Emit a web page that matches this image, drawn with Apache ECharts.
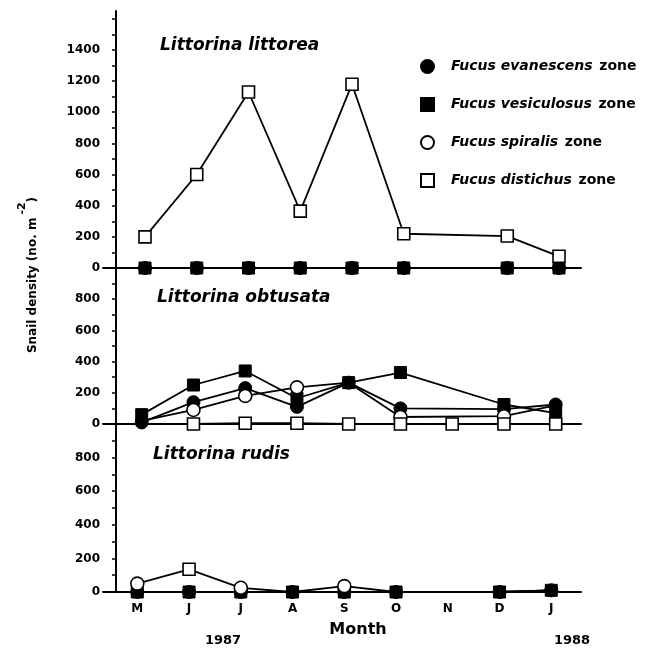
<!DOCTYPE html>
<html>
<head>
<meta charset="utf-8">
<script src="https://cdn.jsdelivr.net/npm/echarts@6/dist/echarts.min.js"></script>
<style>html,body{margin:0;padding:0;background:#fff}#c{width:649px;height:648px}</style>
</head>
<body>
<div id="c"></div>
<script>
// ---- data ----
const months = ['M','J','J','A','S','O','N','D','J'];
const zoneNames = ['Fucus evanescens zone','Fucus vesiculosus zone','Fucus spiralis zone','Fucus distichus zone'];
const panelTitles = ['Littorina littorea','Littorina obtusata','Littorina rudis'];
const yearLabels = ['1987','1988'];
const yLabelsTop = [0,200,400,600,800,1000,1200,1400];
const yLabelsLow = [0,200,400,600,800];

// Littorina littorea (null = not sampled)
const littoreaEvanescens  = [0,0,0,0,0,0,null,0,0];
const littoreaVesiculosus = [0,0,0,0,0,0,null,0,0];
const littoreaDistichus   = [200,600,1130,365,1180,220,null,205,75];

// Littorina obtusata
const obtusataEvanescens  = [10,140,230,110,265,100,null,95,125];
const obtusataVesiculosus = [60,250,340,165,265,330,null,125,70];
const obtusataSpiralis    = [20,90,180,235,265,45,null,50,120];
const obtusataDistichus   = [null,0,5,5,0,0,0,0,0];

// Littorina rudis
const rudisEvanescens  = [0,0,0,0,0,0,null,0,10];
const rudisVesiculosus = [0,0,0,0,0,0,null,0,10];
const rudisSpiralis    = [50,135,25,0,35,0,null,0,10];
const rudisDistichus   = [null,135,null,null,null,null,null,null,null];

// points whose marker is hidden behind another marker in the original figure
const hiddenObtusataSpiralis = [0,4,8];
const hiddenRudisSpiralis = [1,3,5,7,8];

// ---- chart ----
const FONT = 'DejaVu Sans';
const styles = [
  {symbol:'circle', symbolSize:13, itemStyle:{color:'#000', borderColor:'#000', borderWidth:1}},
  {symbol:'rect', symbolSize:12, itemStyle:{color:'#000', borderColor:'#000', borderWidth:1}},
  {symbol:'circle', symbolSize:13, itemStyle:{color:'#fff', borderColor:'#000', borderWidth:1.6}},
  {symbol:'rect', symbolSize:12, itemStyle:{color:'#fff', borderColor:'#000', borderWidth:1.6}}
];

function mk(panel, zoneIdx, values, hidden) {
  hidden = hidden || [];
  const data = [];
  values.forEach((v, i) => {
    if (v === null) return;
    if (hidden.indexOf(i) >= 0) data.push({value:[i, v], symbol:'none'});
    else data.push([i, v]);
  });
  const st = styles[zoneIdx];
  return {
    type:'line', name: zoneNames[zoneIdx], xAxisIndex: panel, yAxisIndex: panel,
    data, symbol: st.symbol, symbolSize: st.symbolSize, showAllSymbol: true,
    itemStyle: st.itemStyle, lineStyle:{color:'#000', width:1.8},
    clip:false, z: 3 + zoneIdx, emphasis:{disabled:true}
  };
}

const grids = [
  {left:103, top:11, width:478, height:257},
  {left:103, top:268, width:478, height:156},
  {left:103, top:424, width:478, height:168}
];
const xRanges = [[-0.812, 8.425], [-0.748, 8.489], [-0.663, 8.574]];
const yMax = [1650, 1000, 1000];

const tickVals = (max) => { const a = []; for (let v = 0; v <= max; v += 100) a.push(v); return a; };

const xAxes = grids.map((g, i) => ({
  gridIndex: i, type:'value', min: xRanges[i][0], max: xRanges[i][1],
  axisLine:{show:true, onZero:false, lineStyle:{color:'#000', width:2}},
  axisTick:{show:false}, splitLine:{show:false},
  axisLabel: i === 2 ? {
    show:true, customValues:[0,1,2,3,4,5,6,7,8], formatter: v => months[Math.round(v)],
    color:'#000', fontFamily:FONT, fontWeight:'bold', fontSize:12, margin:11
  } : {show:false}
}));

const yAxes = grids.map((g, i) => ({
  gridIndex: i, type:'value', min:0, max: yMax[i], offset:-13,
  axisLine:{show:true, onZero:false, lineStyle:{color:'#000', width:2}},
  axisTick:{show:true, inside:false, length:4, customValues: tickVals(i === 0 ? 1600 : 900), lineStyle:{color:'#000', width:1.5}},
  splitLine:{show:false},
  axisLabel:{customValues: i === 0 ? yLabelsTop : yLabelsLow, formatter: v => String(v),
    color:'#000', fontFamily:FONT, fontWeight:'bold', fontSize:12, margin:16}
}));

const series = [
  mk(0, 0, littoreaEvanescens), mk(0, 1, littoreaVesiculosus), mk(0, 3, littoreaDistichus),
  mk(1, 0, obtusataEvanescens), mk(1, 1, obtusataVesiculosus), mk(1, 2, obtusataSpiralis, hiddenObtusataSpiralis), mk(1, 3, obtusataDistichus),
  mk(2, 0, rudisEvanescens), mk(2, 1, rudisVesiculosus), mk(2, 2, rudisSpiralis, hiddenRudisSpiralis), mk(2, 3, rudisDistichus)
];

const titleStyle = {fill:'#000', font:'italic bold 17px "DejaVu Sans"'};
const graphic = [
  {type:'text', x:160, y:46, style:Object.assign({text:panelTitles[0], verticalAlign:'middle'}, titleStyle)},
  {type:'text', x:157, y:298, style:Object.assign({text:panelTitles[1], verticalAlign:'middle'}, titleStyle)},
  {type:'text', x:153, y:455, style:Object.assign({text:panelTitles[2], verticalAlign:'middle'}, titleStyle)},
  {type:'text', x:358, y:630, style:{text:'Month', fill:'#000', font:'bold 16px "DejaVu Sans"', align:'center', verticalAlign:'middle'}},
  {type:'text', x:223, y:641, style:{text:yearLabels[0], fill:'#000', font:'bold 13px "DejaVu Sans"', align:'center', verticalAlign:'middle'}},
  {type:'text', x:572, y:641, style:{text:yearLabels[1], fill:'#000', font:'bold 13px "DejaVu Sans"', align:'center', verticalAlign:'middle'}},
  {type:'text', x:28, y:275, rotation:Math.PI/2, style:{
    text:'{m|Snail density (no. m}{s|-2}{m|)}', align:'center', verticalAlign:'middle',
    rich:{m:{fontFamily:FONT, fontWeight:'bold', fontSize:12, fill:'#000', lineHeight:22, verticalAlign:'bottom'},
          s:{fontFamily:FONT, fontWeight:'bold', fontSize:11, fill:'#000', lineHeight:22, verticalAlign:'top', padding:[0,0,0,3]}}
  }}
];

const option = {
  animation:false,
  backgroundColor:'#fff',
  grid: grids, xAxis: xAxes, yAxis: yAxes, series, graphic,
  legend:{
    orient:'vertical', left:415, top:54, itemWidth:13, itemHeight:13, itemGap:23,
    selectedMode:false,
    data:[
      {name:zoneNames[0], icon:'circle'},
      {name:zoneNames[1], icon:'rect'},
      {name:zoneNames[2], icon:'circle'},
      {name:zoneNames[3], icon:'rect'}
    ],
    formatter: n => '{i|' + n.replace(/ zone$/, '') + '}  {n|zone}',
    textStyle:{
      padding:[0,0,0,12],
      rich:{
        i:{fontFamily:FONT, fontStyle:'italic', fontWeight:'bold', fontSize:14, color:'#000'},
        n:{fontFamily:FONT, fontWeight:'bold', fontSize:14, color:'#000'}
      }
    }
  }
};

const chart = echarts.init(document.getElementById('c'), null, {renderer:'canvas'});
chart.setOption(option);
</script>
</body>
</html>
